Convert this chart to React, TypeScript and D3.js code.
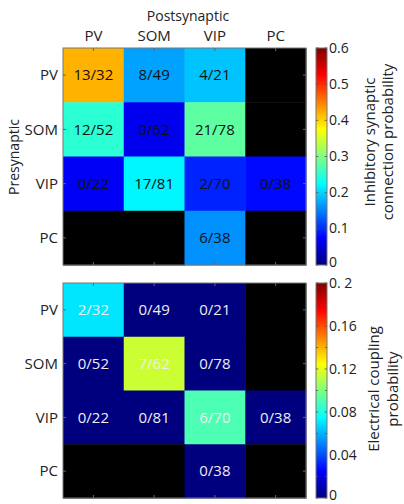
import React from "react";
import * as d3 from "d3";

const rows = ["PV", "SOM", "VIP", "PC"];
const cols = ["PV", "SOM", "VIP", "PC"];

// Inhibitory synaptic connection: labels and colour values
const inhibLabels: (string | null)[][] = [
  ["13/32", "8/49", "4/21", null],
  ["12/52", "0/62", "21/78", null],
  ["0/22", "17/81", "2/70", "0/38"],
  [null, null, "6/38", null],
];
const inhibValues: (number | null)[][] = [
  [0.42, 0.17, 0.19, null],
  [0.25, 0.065, 0.28, null],
  [0.07, 0.22, 0.095, 0.08],
  [null, null, 0.16, null],
];
const inhibTicks = [0, 0.1, 0.2, 0.3, 0.4, 0.5, 0.6];
const inhibTickLabels = ["0", "0.1", "0.2", "0.3", "0.4", "0.5", "0.6"];

// Electrical coupling
const elecLabels: (string | null)[][] = [
  ["2/32", "0/49", "0/21", null],
  ["0/52", "7/62", "0/78", null],
  ["0/22", "0/81", "6/70", "0/38"],
  [null, null, "0/38", null],
];
const elecValues: (number | null)[][] = [
  [0.07, 0, 0, null],
  [0, 0.115, 0, null],
  [0, 0, 0.09, 0],
  [null, null, 0, null],
];
const elecTicks = [0, 0.04, 0.08, 0.12, 0.16, 0.2];
const elecTickLabels = ["0", "0.04", "0.08", "0.12", "0.16", "0. 2"];
const elecMinor = [0.02, 0.06, 0.1, 0.14, 0.18];

const jetStops = [0, 0.125, 0.375, 0.625, 0.875, 1];
const jetColors = ["#00007f", "#0000ff", "#00ffff", "#ffff00", "#ff0000", "#7f0000"];
const jet = d3.scaleLinear<string>().domain(jetStops).range(jetColors).interpolate(d3.interpolateRgb).clamp(true);

const FONT = "'Open Sans', 'Noto Sans', sans-serif";

type PanelProps = {
  labels: (string | null)[][];
  values: (number | null)[][];
  vmax: number;
  top: number;
  bottom: number;
  textColor: string;
  showCols: boolean;
  ticks: number[];
  tickLabels: string[];
  minor: number[];
  title: string[];
  titleX: number[];
  titleY: number;
  id: string;
};

function Panel(p: PanelProps) {
  const x = d3.scaleBand<string>().domain(cols).range([63, 306]);
  const y = d3.scaleBand<string>().domain(rows).range([p.top, p.bottom]);
  const cb = d3.scaleLinear().domain([0, p.vmax]).range([p.bottom, p.top]);
  const cbX0 = 316, cbX1 = 327;
  const bw = x.bandwidth();
  const bh = y.bandwidth();
  return (
    <g>
      {rows.map((r, i) =>
        cols.map((c, j) => {
          const v = p.values[i][j];
          const fill = v === null ? "#000" : jet(v / p.vmax);
          return (
            <rect key={`${r}-${c}`} x={x(c)!} y={y(r)!} width={bw + 0.5} height={bh + 0.5} fill={fill} />
          );
        })
      )}
      {rows.map((r, i) =>
        cols.map((c, j) => {
          const t = p.labels[i][j];
          if (!t) return null;
          return (
            <text key={`t${r}-${c}`} x={x(c)! + bw / 2} y={y(r)! + bh / 2} dy="0.35em" textAnchor="middle"
              fontSize={15} fill={p.textColor} fontFamily={FONT}>{t}</text>
          );
        })
      )}
      <rect x={63} y={p.top} width={243} height={p.bottom - p.top} fill="none" stroke="#777" strokeWidth={1} />
      {cols.map((c) => (
        <g key={"ct" + c}>
          <line x1={x(c)! + bw / 2} x2={x(c)! + bw / 2} y1={p.top} y2={p.top + 3} stroke="#666" />
          <line x1={x(c)! + bw / 2} x2={x(c)! + bw / 2} y1={p.bottom} y2={p.bottom - 3} stroke="#666" />
        </g>
      ))}
      {rows.map((r) => (
        <g key={"rt" + r}>
          <line x1={63} x2={66} y1={y(r)! + bh / 2} y2={y(r)! + bh / 2} stroke="#666" />
          <line x1={306} x2={303} y1={y(r)! + bh / 2} y2={y(r)! + bh / 2} stroke="#666" />
          <text x={58} y={y(r)! + bh / 2} dy="0.35em" textAnchor="end" fontSize={15} fill="#222" fontFamily={FONT}>{r}</text>
        </g>
      ))}
      {p.showCols && cols.map((c) => (
        <text key={"cl" + c} x={x(c)! + bw / 2} y={41} textAnchor="middle" fontSize={15} fill="#222" fontFamily={FONT}>{c}</text>
      ))}
      <defs>
        <linearGradient id={p.id} x1="0" y1="1" x2="0" y2="0">
          {jetStops.map((s, k) => (
            <stop key={k} offset={s} stopColor={jetColors[k]} />
          ))}
        </linearGradient>
      </defs>
      <rect x={cbX0} y={p.top} width={cbX1 - cbX0} height={p.bottom - p.top} fill={`url(#${p.id})`} stroke="#777" strokeWidth={1} />
      {p.ticks.map((t, k) => (
        <g key={"cbt" + k}>
          <line x1={cbX0} x2={cbX0 + 2.5} y1={cb(t)} y2={cb(t)} stroke="#555" strokeWidth={0.8} />
          <line x1={cbX1} x2={cbX1 - 2.5} y1={cb(t)} y2={cb(t)} stroke="#555" strokeWidth={0.8} />
          <text x={329} y={Math.min(cb(t), p.bottom - 3)} dy="0.33em" fontSize={14} fill="#222" fontFamily={FONT}>{p.tickLabels[k]}</text>
        </g>
      ))}
      {p.minor.map((t, k) => (
        <g key={"cbm" + k}>
          <line x1={cbX0} x2={cbX0 + 2} y1={cb(t)} y2={cb(t)} stroke="#555" strokeWidth={0.8} />
          <line x1={cbX1} x2={cbX1 - 2} y1={cb(t)} y2={cb(t)} stroke="#555" strokeWidth={0.8} />
        </g>
      ))}
      {p.title.map((line, k) => (
        <text key={"ti" + k} transform={`translate(${p.titleX[k]},${p.titleY}) rotate(-90)`} textAnchor="middle"
          dy="0.35em" fontSize={15} fill="#222" fontFamily={FONT}>{line}</text>
      ))}
    </g>
  );
}

export default function App() {
  return (
    <svg width={404} height={504} style={{ position: "absolute", left: 0, top: 0, background: "#fff" }}>
      <text x={188} y={21} textAnchor="middle" fontSize={14} fill="#222" fontFamily={FONT}>Postsynaptic</text>
      <text transform="translate(14,157) rotate(-90)" textAnchor="middle" dy="0.35em" fontSize={14} fill="#222" fontFamily={FONT}>Presynaptic</text>
      <Panel labels={inhibLabels} values={inhibValues} vmax={0.6} top={48} bottom={265} textColor="#111"
        showCols={true} ticks={inhibTicks} tickLabels={inhibTickLabels} minor={[]}
        title={["Inhibitory synaptic", "connection probability"]} titleX={[370, 388]} titleY={142} id="g1" />
      <Panel labels={elecLabels} values={elecValues} vmax={0.2} top={283} bottom={498} textColor="#eee"
        showCols={false} ticks={elecTicks} tickLabels={elecTickLabels} minor={elecMinor}
        title={["Electrical coupling", "probability"]} titleX={[374, 393]} titleY={389} id="g2" />
    </svg>
  );
}
